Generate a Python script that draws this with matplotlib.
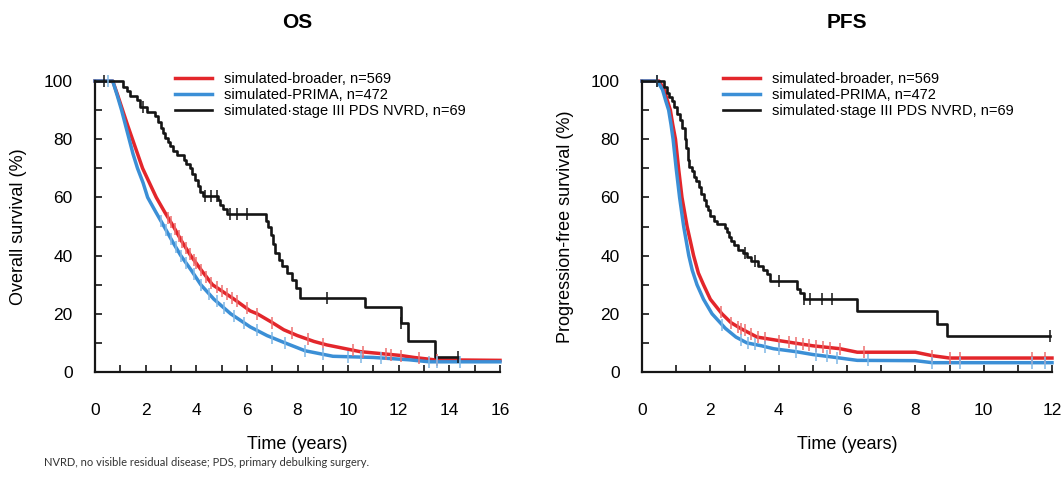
import numpy as np
import matplotlib
matplotlib.use("Agg")
import matplotlib.pyplot as plt
from matplotlib.ticker import MultipleLocator

plt.rcParams['font.family'] = ['Liberation Sans', 'DejaVu Sans']

RED = '#e3262b'
BLUE = '#3b8fd6'
BLACK = '#151515'
RED_C = '#ee7070'
BLUE_C = '#80b8e6'

labels = ['simulated-broader, n=569', 'simulated-PRIMA, n=472',
          'simulated\u00b7stage III PDS NVRD, n=69']

# ---- OS ----
os_red_t = [0, 0.7, 0.9, 1.09, 1.3, 1.48, 1.68, 1.88, 2.15, 2.42, 2.75, 3.1,
            3.42, 3.78, 4.2, 4.64, 5.5, 6.13, 6.41, 7.0, 7.46, 8.0, 8.65, 9.16,
            10.47, 12.05, 12.6, 13.4, 16]
os_red_s = [100, 100, 95, 90, 84.5, 80, 75, 70, 65, 60, 55, 50,
            45, 40, 35, 30, 25, 21, 20, 17, 14.5, 12.5, 10.5, 9.3,
            7, 5.7, 5, 4.2, 4]
os_blue_t = [0, 0.7, 0.88, 1.05, 1.2, 1.35, 1.5, 1.68, 1.9, 2.08, 2.4, 2.73,
             3.05, 3.39, 3.8, 4.18, 4.7, 5.36, 6.13, 6.8, 7.45, 8.3, 9.4, 11.0,
             12.4, 13.2, 16]
os_blue_s = [100, 100, 95, 90, 85, 80, 75, 70, 65, 60, 55, 50,
             45, 40, 35, 30, 25, 20, 15.5, 12.5, 10.2, 7.3, 5.4, 5,
             4.2, 3.5, 3.5]
os_black_t = [0, 1.1, 1.25, 1.4, 1.65, 1.78, 2.05, 2.37, 2.5, 2.6, 2.7, 2.77, 2.88,
              2.96, 3.1, 3.24, 3.5, 3.6, 3.75, 3.85, 3.95, 4.05, 4.15, 4.25,
              4.85, 4.95, 5.05, 5.2, 6.75, 6.85, 6.95, 7.05, 7.12, 7.25, 7.4,
              7.6, 7.8, 7.95, 8.1, 10.67, 12.1, 12.37, 13.45, 14.35]
os_black_s = [100, 98, 96.5, 95, 93.5, 91, 89.5, 88, 86, 84, 82, 80.5, 79,
              77.5, 76, 74.5, 73, 71.5, 70, 68, 66, 64, 62, 60.5,
              59, 57.5, 56, 54.2, 52, 50, 47, 44, 41, 38.5, 36.5,
              34, 31.5, 29, 25.6, 22.2, 16.8, 10.5, 5.2, 5.2]
os_red_cens = [2.9, 3.0, 3.15, 3.3, 3.45, 3.6, 3.75, 3.9, 4.0, 4.2, 4.4, 4.6, 4.8,
               5.0, 5.2, 5.4, 5.6, 6.0, 6.4, 7.0, 7.8, 8.4, 9.0, 10.2, 10.6,
               11.5, 11.7, 12.1, 12.8, 13.5]
os_blue_cens = [0.5, 2.6, 2.8, 3.0, 3.2, 3.4, 3.6, 3.9, 4.2, 4.5, 4.8, 5.1, 5.5,
                5.9, 6.4, 7.0, 7.5, 8.3, 9.0, 10.0, 10.5, 11.3, 13.2, 13.5, 14.4]
os_black_cens = [0.35, 1.9, 4.35, 4.6, 4.8, 5.33, 5.6, 6.0, 9.16, 12.1, 14.35]

# ---- PFS ----
pfs_red_t = [0, 0.5, 0.65, 0.75, 0.83, 0.9, 0.98, 1.07, 1.17, 1.32, 1.51, 1.65,
             1.8, 2.0, 2.34, 2.6, 2.88, 3.37, 4.0, 4.44, 5.0, 5.8, 6.3, 8.0,
             8.5, 9.0, 12]
pfs_red_s = [100, 100, 97, 93, 90, 85, 80, 70, 60, 50, 40, 34,
             30, 25, 20, 17, 15, 12, 10.8, 10, 9, 8, 6.8, 6.8,
             5.6, 4.8, 4.8]
pfs_blue_t = [0, 0.45, 0.6, 0.7, 0.78, 0.85, 0.91, 1.0, 1.1, 1.22, 1.37, 1.47,
              1.61, 1.8, 2.05, 2.44, 2.75, 3.07, 3.5, 3.85, 4.5, 5.0, 5.6, 6.3,
              8.0, 8.5, 12]
pfs_blue_s = [100, 100, 97, 93, 90, 85, 80, 70, 60, 50, 40, 35,
              30, 25, 20, 15, 12, 10, 9, 8, 7, 6, 5.1, 4,
              3.9, 3.2, 3.2]
pfs_black_t = [0, 0.63, 0.73, 0.8, 0.88, 0.95, 1.02, 1.1, 1.17, 1.27, 1.3, 1.34,
               1.37, 1.45, 1.51, 1.58, 1.66, 1.73, 1.8, 1.87, 1.93, 2.0, 2.1,
               2.2, 2.44, 2.5, 2.54, 2.6, 2.68, 2.8, 2.95, 3.07, 3.2, 3.4, 3.55,
               3.66, 3.76, 4.54, 4.63, 4.73, 6.29, 8.63, 8.93, 11.95]
pfs_black_s = [100, 98, 96, 94.5, 93, 91, 88.5, 86.5, 84, 80, 77, 73,
               70.6, 69, 67, 65.5, 63.5, 61, 59, 57, 55.5, 53.5, 52,
               51, 49.5, 48, 46.5, 45, 43.5, 42, 41, 39.5, 38, 36.5, 35,
               33.6, 31.3, 28.5, 27, 25, 20.8, 16.5, 12.3, 12.3]
pfs_red_cens = [2.3, 2.6, 2.8, 2.9, 3.0, 3.2, 3.4, 3.6, 4.0, 4.3, 4.5, 4.7, 4.9,
                5.1, 5.3, 5.5, 5.8, 6.5, 8.5, 9.0, 9.3, 11.4, 11.8]
pfs_blue_cens = [0.45, 2.35, 2.9, 3.1, 3.3, 3.6, 4.0, 4.5, 5.1, 5.4, 5.7, 6.6,
                 8.5, 9.3, 11.4, 11.8]
pfs_black_cens = [0.45, 3.02, 3.3, 4.0, 4.73, 4.93, 5.27, 5.56, 11.95]


def step_at(t, times, surv):
    idx = np.searchsorted(times, t, side='right') - 1
    return np.asarray(surv)[idx]


def draw_panel(ax, curves, xmax, ylabel):
    for t, s, cens, col, ccol, lw, stepped, lab in curves:
        if stepped:
            ax.plot(t, s, drawstyle='steps-post', color=col, lw=lw, label=lab,
                    zorder=3, clip_on=False)
            cy = step_at(cens, t, s)
        else:
            ax.plot(t, s, color=col, lw=lw, label=lab, zorder=2, clip_on=False)
            cy = np.interp(cens, t, s)
        ax.plot(cens, cy, ls='none', marker='|', ms=8, mew=1.1, color=ccol,
                zorder=4, clip_on=False)
    ax.set_xlim(0, xmax)
    ax.set_ylim(0, 100)
    ax.spines['top'].set_visible(False)
    ax.spines['right'].set_visible(False)
    for sp in ('left', 'bottom'):
        ax.spines[sp].set_linewidth(1.6)
        ax.spines[sp].set_color(BLACK)
    ax.xaxis.set_major_locator(MultipleLocator(2))
    ax.xaxis.set_minor_locator(MultipleLocator(1))
    ax.yaxis.set_major_locator(MultipleLocator(20))
    ax.yaxis.set_minor_locator(MultipleLocator(10))
    ax.tick_params(axis='both', which='both', direction='in', length=5,
                   width=1.2, color=BLACK)
    ax.tick_params(axis='x', which='major', pad=22, labelsize=12.5)
    ax.tick_params(axis='y', which='major', pad=16, labelsize=12.5)
    ax.set_xlabel('Time (years)', fontsize=13, labelpad=13)
    ax.set_ylabel(ylabel, fontsize=13, labelpad=12)
    ax.legend(loc='upper left', bbox_to_anchor=(0.198, 1.03), frameon=False,
              fontsize=10.5, handlelength=2.5, handletextpad=0.85,
              labelspacing=0.12, borderpad=0, borderaxespad=0)


fig = plt.figure(figsize=(10.64, 4.79), dpi=100)
ax1 = fig.add_axes([95 / 1064, 1 - 372 / 479, 405 / 1064, 291 / 479])
ax2 = fig.add_axes([642 / 1064, 1 - 372 / 479, 410 / 1064, 291 / 479])

draw_panel(ax1, [
    (os_red_t, os_red_s, os_red_cens, RED, RED_C, 2.5, False, labels[0]),
    (os_blue_t, os_blue_s, os_blue_cens, BLUE, BLUE_C, 2.5, False, labels[1]),
    (os_black_t, os_black_s, os_black_cens, BLACK, BLACK, 1.9, True, labels[2]),
], 16, 'Overall survival (%)')

draw_panel(ax2, [
    (pfs_red_t, pfs_red_s, pfs_red_cens, RED, RED_C, 2.5, False, labels[0]),
    (pfs_blue_t, pfs_blue_s, pfs_blue_cens, BLUE, BLUE_C, 2.5, False, labels[1]),
    (pfs_black_t, pfs_black_s, pfs_black_cens, BLACK, BLACK, 1.9, True, labels[2]),
], 12, 'Progression-free survival (%)')

fig.text(297 / 1064, 1 - 22 / 479, 'OS', ha='center', va='center',
         fontsize=15, fontweight='bold')
fig.text(847 / 1064, 1 - 22 / 479, 'PFS', ha='center', va='center',
         fontsize=15, fontweight='bold')
fig.text(44 / 1064, 1 - 462 / 479,
         'NVRD, no visible residual disease; PDS, primary debulking surgery.',
         ha='left', va='center', fontsize=8, family=['Lato', 'DejaVu Sans'],
         color='#333333')

fig.savefig('out.png', dpi=100)
